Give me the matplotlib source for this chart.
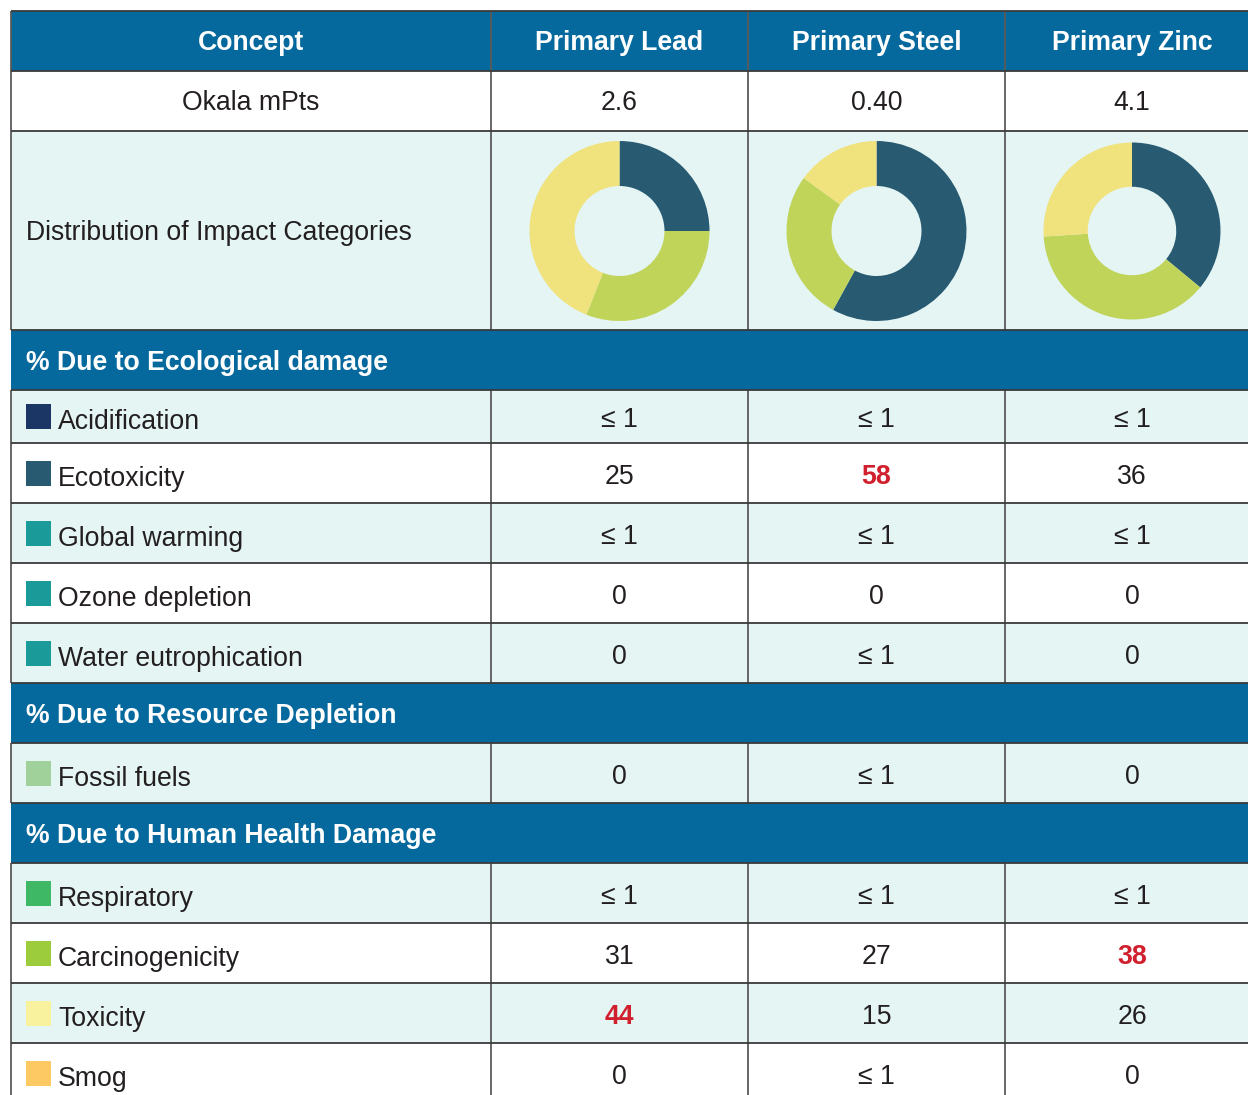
import matplotlib
matplotlib.use('Agg')
import matplotlib.pyplot as plt
from matplotlib.patches import Rectangle

plt.rcParams['font.family'] = ['Liberation Sans', 'DejaVu Sans']

# ---------------- data ----------------
columns = ['Concept', 'Primary Lead', 'Primary Steel', 'Primary Zinc']
okala_label = 'Okala mPts'
okala = ['2.6', '0.40', '4.1']
dist_label = 'Distribution of Impact Categories'

pie_categories = ['Ecotoxicity', 'Carcinogenicity', 'Toxicity']
pie_lead = [25, 31, 44]
pie_steel = [58, 27, 15]
pie_zinc = [36, 38, 26]
pie_colors = ['#285a72', '#c0d45a', '#f0e27c']

section_eco = '% Due to Ecological damage'
eco_cats = ['Acidification', 'Ecotoxicity', 'Global warming', 'Ozone depletion', 'Water eutrophication']
eco_colors = ['#1b3565', '#285a72', '#1a9a98', '#1a9a98', '#1a9a98']
eco_lead = ['≤ 1', '25', '≤ 1', '0', '0']
eco_steel = ['≤ 1', '58', '≤ 1', '0', '≤ 1']
eco_zinc = ['≤ 1', '36', '≤ 1', '0', '0']

section_res = '% Due to Resource Depletion'
res_cats = ['Fossil fuels']
res_colors = ['#a0d19b']
res_lead = ['0']
res_steel = ['≤ 1']
res_zinc = ['0']

section_hh = '% Due to Human Health Damage'
hh_cats = ['Respiratory', 'Carcinogenicity', 'Toxicity', 'Smog']
hh_colors = ['#3fb866', '#9ccb3b', '#f8f29e', '#fdc962']
hh_lead = ['≤ 1', '31', '44', '0']
hh_steel = ['≤ 1', '27', '15', '≤ 1']
hh_zinc = ['≤ 1', '38', '26', '0']

highlight = {('Ecotoxicity', 1), ('Carcinogenicity', 2), ('Toxicity', 0)}

# ---------------- style ----------------
BLUE = '#05699d'
LIGHT = '#e4f5f4'
WHITE = '#ffffff'
LINE = '#3a3a3a'
VLINE = '#5a5a5a'
RED = '#d0202e'
TXT = '#231f20'

W, H = 1248, 1095
fig = plt.figure(figsize=(W / 100, H / 100), dpi=100)
ax = fig.add_axes([0, 0, 1, 1])
ax.set_xlim(0, W)
ax.set_ylim(H, 0)
ax.axis('off')

col_x = [11, 491, 748, 1005, 1259]
col_c = [(col_x[i] + col_x[i + 1]) / 2 for i in range(4)]

rows = []
rows.append(('header', None, 60, BLUE))
rows.append(('okala', None, 60, WHITE))
rows.append(('donut', None, 199, LIGHT))
rows.append(('section', section_eco, 60, BLUE))
heights_eco = [53, 60, 60, 60, 60]
for i, c in enumerate(eco_cats):
    rows.append(('cat', (c, eco_colors[i], [eco_lead[i], eco_steel[i], eco_zinc[i]]),
                 heights_eco[i], LIGHT if i % 2 == 0 else WHITE))
rows.append(('section', section_res, 60, BLUE))
for i, c in enumerate(res_cats):
    rows.append(('cat', (c, res_colors[i], [res_lead[i], res_steel[i], res_zinc[i]]),
                 60, LIGHT))
rows.append(('section', section_hh, 60, BLUE))
for i, c in enumerate(hh_cats):
    rows.append(('cat', (c, hh_colors[i], [hh_lead[i], hh_steel[i], hh_zinc[i]]),
                 60, LIGHT if i % 2 == 0 else WHITE))

FS = 19.2
y = 11
bounds = [y]
for kind, content, h, fill in rows:
    y0, y1 = y, y + h
    yc = (y0 + y1) / 2
    ax.add_patch(Rectangle((col_x[0], y0), col_x[-1] - col_x[0], h,
                           facecolor=fill, edgecolor='none', zorder=1))
    if kind != 'section':
        for xv in col_x[:4]:
            ax.plot([xv, xv], [y0, y1], color=VLINE, lw=1.3, zorder=3,
                    solid_capstyle='butt')
    if kind == 'header':
        for i, name in enumerate(columns):
            ax.text(col_c[i], yc + 2.5, name, ha='center', va='center', color='white',
                    fontsize=FS, fontweight='bold', zorder=4)
    elif kind == 'okala':
        ax.text(col_c[0], yc + 2.5, okala_label, ha='center', va='center', color=TXT,
                fontsize=FS, zorder=4)
        for i, v in enumerate(okala):
            ax.text(col_c[i + 1], yc + 2.5, v, ha='center', va='center', color=TXT,
                    fontsize=FS, zorder=4)
    elif kind == 'donut':
        ax.text(26, yc + 2.5, dist_label, ha='left', va='center', color=TXT,
                fontsize=FS, zorder=4)
        donut_y = 231
        for i, vals in enumerate([pie_lead, pie_steel, pie_zinc]):
            cx = col_c[i + 1]
            r = 90 if i < 2 else 88.5
            pax = fig.add_axes([(cx - r) / W, 1 - (donut_y + r) / H, 2 * r / W, 2 * r / H])
            pax.pie(vals, colors=pie_colors, startangle=90, counterclock=False,
                    radius=1, wedgeprops=dict(width=0.5, edgecolor='none'))
            pax.set_xlim(-1, 1)
            pax.set_ylim(-1, 1)
            pax.axis('off')
    elif kind == 'section':
        ax.text(26, yc + 3, content, ha='left', va='center', color='white',
                fontsize=FS, fontweight='bold', zorder=4)
    elif kind == 'cat':
        name, sw, vals = content
        ax.add_patch(Rectangle((26, yc - 12.5), 25, 25, facecolor=sw,
                               edgecolor='none', zorder=4))
        ax.text(58, yc + 5.5, name, ha='left', va='center', color=TXT,
                fontsize=FS, zorder=4)
        for j, v in enumerate(vals):
            red = (name, j) in highlight
            ax.text(col_c[j + 1], yc + 3.5, v, ha='center', va='center',
                    color=RED if red else TXT, fontsize=FS,
                    fontweight='bold' if red else 'normal', zorder=4)
    y = y1
    bounds.append(y)

for b in bounds:
    ax.plot([col_x[0], col_x[-1]], [b, b], color=LINE, lw=1.3, zorder=3,
            solid_capstyle='butt')

fig.savefig('out.png', dpi=100)
